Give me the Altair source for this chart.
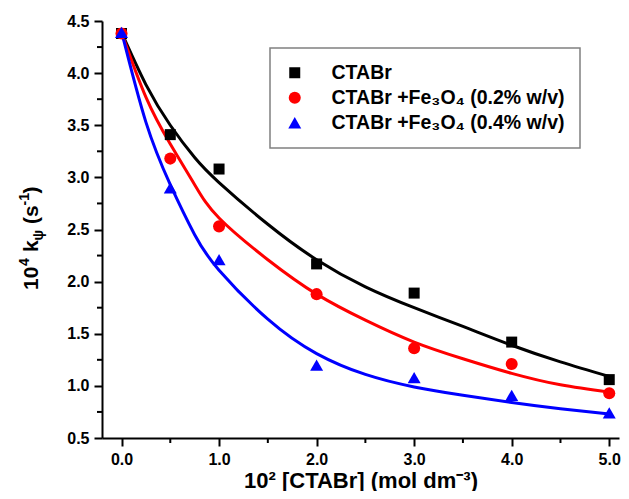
import altair as alt
import pandas as pd

# ---- data ----
conc = [0.0, 0.5, 1.0, 2.0, 3.0, 4.0, 5.0]
k_ctabr = [4.38, 3.41, 3.08, 2.17, 1.89, 1.42, 1.06]
k_fe02 = [4.38, 3.18, 2.53, 1.88, 1.36, 1.21, 0.93]
k_fe04 = [4.39, 2.90, 2.21, 1.20, 1.08, 0.91, 0.74]

fit_x = [0.0, 0.25, 0.5, 0.75, 1.0, 1.5, 2.0, 2.5, 3.0, 3.5, 4.0, 4.5, 5.0]
fit_ctabr = [4.39, 3.89, 3.50, 3.19, 2.95, 2.55, 2.21, 1.95, 1.75, 1.57, 1.39, 1.23, 1.09]
fit_fe02 = [4.39, 3.77, 3.32, 2.93, 2.61, 2.21, 1.88, 1.63, 1.42, 1.26, 1.12, 1.01, 0.94]
fit_fe04 = [4.40, 3.53, 2.93, 2.45, 2.11, 1.64, 1.31, 1.11, 0.99, 0.91, 0.84, 0.78, 0.73]

series = ["CTABr", "CTABr +Fe\u2083O\u2084 (0.2% w/v)", "CTABr +Fe\u2083O\u2084 (0.4% w/v)"]
colors = ["#000000", "#ff0000", "#0000ff"]
shapes = ["square", "circle", "triangle-up"]
sizes = [121, 169, 225]

x_ticks = [0, 1, 2, 3, 4, 5]
x_minor = [0.5, 1.5, 2.5, 3.5, 4.5]
y_ticks = [0.5, 1.0, 1.5, 2.0, 2.5, 3.0, 3.5, 4.0, 4.5]
y_minor = [0.75, 1.25, 1.75, 2.25, 2.75, 3.25, 3.75, 4.25]

FONT = "Liberation Sans"

pts = pd.DataFrame({
    "x": conc * 3,
    "y": k_ctabr + k_fe02 + k_fe04,
    "s": [series[0]] * 7 + [series[1]] * 7 + [series[2]] * 7,
})
fits = [pd.DataFrame({"x": fit_x, "y": f}) for f in (fit_ctabr, fit_fe02, fit_fe04)]

xscale = alt.Scale(domain=[-0.2, 5.1], nice=False, zero=False)
yscale = alt.Scale(domain=[0.5, 4.5], nice=False, zero=False)

axis_common = dict(
    domainColor="black", domainWidth=2, tickColor="black", tickWidth=2, tickSize=8,
    labelFont=FONT, labelFontSize=16, labelFontWeight="bold", labelColor="black",
    labelPadding=5, grid=False, format=".1f",
)

lines = [
    alt.Chart(df).mark_line(interpolate="natural", strokeWidth=3, color=c).encode(
        x=alt.X("x:Q", scale=xscale,
                axis=alt.Axis(values=x_ticks, title="10\u00b2 [CTABr] (mol dm\u207b\u00b3)",
                              titleFont=FONT, titleFontSize=22, titleFontWeight="bold",
                              titleColor="black", titleY=32, **axis_common)),
        y=alt.Y("y:Q", scale=yscale,
                axis=alt.Axis(values=y_ticks, title=None, **axis_common)),
    )
    for df, c in zip(fits, colors)
]

points = alt.Chart(pts).mark_point(filled=True, opacity=1).encode(
    x=alt.X("x:Q", scale=xscale),
    y=alt.Y("y:Q", scale=yscale),
    color=alt.Color("s:N", scale=alt.Scale(domain=series, range=colors), title=None),
    shape=alt.Shape("s:N", scale=alt.Scale(domain=series, range=shapes), title=None),
    size=alt.Size("s:N", scale=alt.Scale(domain=series, range=sizes), title=None),
)

xminor = alt.Chart(pd.DataFrame({"x": x_minor})).mark_rule(color="black", strokeWidth=2).encode(
    x=alt.X("x:Q", scale=xscale), y=alt.value(417), y2=alt.value(422)
)
yminor = alt.Chart(pd.DataFrame({"y": y_minor})).mark_rule(color="black", strokeWidth=2).encode(
    y=alt.Y("y:Q", scale=yscale), x=alt.value(-5), x2=alt.value(0)
)

# y-axis title built from pieces (super/subscripts)
yt_pieces = [
    ("10", 21, -64, 269),
    ("4", 14, -73, 245),
    ("k", 21, -64, 231),
    ("\u03c8", 14, -59, 219.5),
    ("(s", 21, -64, 203),
    ("-1", 14, -73, 184.5),
    (")", 21, -64, 172.5),
]
ytitle = [
    alt.Chart(pd.DataFrame({"t": [t]})).mark_text(
        angle=270, align="left", baseline="alphabetic", font=FONT,
        fontSize=fs, fontWeight="bold", color="black",
    ).encode(text="t:N", x=alt.value(px), y=alt.value(py))
    for t, fs, px, py in yt_pieces
]

chart = alt.layer(*lines, points, xminor, yminor, *ytitle).properties(
    width=517, height=417,
    autosize=alt.AutoSizeParams(type="none"),
    padding={"left": 94, "top": 13, "right": 2, "bottom": 53},
).configure_view(stroke=None).configure_legend(
    orient="none", legendX=168, legendY=27, padding=15,
    strokeColor="#808080", strokeWidth=1.5, fillColor="white",
    labelFont=FONT, labelFontSize=19.5, labelFontWeight="bold", labelColor="black",
    labelLimit=500, labelOffset=27, rowPadding=4, symbolStrokeWidth=0,
)

chart.save("out.html", embed_options={"renderer": "svg", "actions": False})
